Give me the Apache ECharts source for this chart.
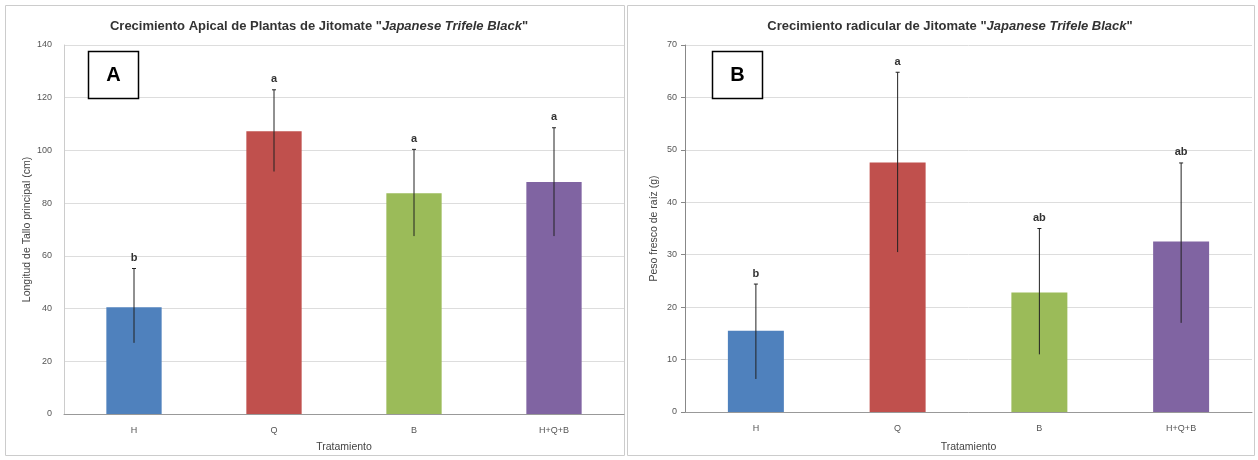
<!DOCTYPE html>
<html><head><meta charset="utf-8">
<script src="https://cdn.jsdelivr.net/npm/echarts@6/dist/echarts.min.js"></script>
<style>html,body{margin:0;padding:0;background:#fff}#c{width:1258px;height:460px}</style>
</head><body><div id="c"></div>
<script>
const categories = ['H', 'Q', 'B', 'H+Q+B'];
const colors = ['#4f81bd', '#c0504d', '#9bbb59', '#8064a2'];
// Panel A: Longitud de tallo principal (cm)
const valuesA = [40.5, 107.3, 83.8, 88];
const errLowA = [27, 92, 67.5, 67.5];
const errHighA = [55.2, 123, 100.4, 108.6];
const lettersA = ['b', 'a', 'a', 'a'];
// Panel B: Peso fresco de raíz (g)
const valuesB = [15.5, 47.6, 22.8, 32.5];
const errLowB = [6.3, 30.5, 11, 17];
const errHighB = [24.4, 64.8, 35, 47.5];
const lettersB = ['b', 'a', 'ab', 'ab'];

const chart = echarts.init(document.getElementById('c'));
const font = 'Liberation Sans, Arial, sans-serif';

function errSeries(idx, lows, highs, letters) {
  return {
    type: 'custom', xAxisIndex: idx, yAxisIndex: idx, z: 10,
    data: categories.map((c, i) => [i, lows[i], highs[i]]),
    renderItem: function (params, api) {
      const lo = api.coord([api.value(0), api.value(1)]);
      const hi = api.coord([api.value(0), api.value(2)]);
      const i = params.dataIndex;
      return {
        type: 'group', children: [
          { type: 'line', shape: { x1: lo[0], y1: lo[1], x2: hi[0], y2: hi[1] }, style: { stroke: '#222', lineWidth: 1 } },
          { type: 'line', shape: { x1: hi[0] - 2, y1: hi[1], x2: hi[0] + 2, y2: hi[1] }, style: { stroke: '#222', lineWidth: 1 } },
          { type: 'text', x: hi[0], y: hi[1] - 5, style: { text: letters[i], fill: '#333', font: 'bold 11px ' + font, align: 'center', verticalAlign: 'bottom' } }
        ]
      };
    }
  };
}

function barSeries(idx, vals) {
  return {
    type: 'bar', xAxisIndex: idx, yAxisIndex: idx, barWidth: '39.5%',
    data: vals.map((v, i) => ({ value: v, itemStyle: { color: colors[i] } }))
  };
}

const axisLabelStyle = { color: '#555', fontSize: 9, fontFamily: font };
const titleRich = {
  n: { fontSize: 13, fontWeight: 'bold', color: '#333', fontFamily: font },
  i: { fontSize: 13, fontWeight: 'bold', fontStyle: 'italic', color: '#333', fontFamily: font }
};

chart.setOption({
  animation: false,
  title: [
    { text: '{n|Crecimiento Apical de Plantas de Jitomate "}{i|Japanese Trifele Black}{n|"}', left: 314, top: 15, textAlign: 'center',
      textStyle: { rich: titleRich } },
    { text: '{n|Crecimiento radicular de Jitomate "}{i|Japanese Trifele Black}{n|"}', left: 945, top: 15, textAlign: 'center',
      textStyle: { rich: titleRich } }
  ],
  grid: [
    { left: 64, top: 45, width: 560, height: 369 },
    { left: 685, top: 45, width: 567, height: 367 }
  ],
  xAxis: [
    { type: 'category', gridIndex: 0, data: categories, name: 'Tratamiento', nameLocation: 'middle', nameGap: 28,
      nameTextStyle: { fontSize: 10.5, color: '#444', fontFamily: font },
      axisLine: { lineStyle: { color: '#999' } }, axisTick: { show: false }, axisLabel: { ...axisLabelStyle, margin: 12 } },
    { type: 'category', gridIndex: 1, data: categories, name: 'Tratamiento', nameLocation: 'middle', nameGap: 30,
      nameTextStyle: { fontSize: 10.5, color: '#444', fontFamily: font },
      axisLine: { lineStyle: { color: '#999' } }, axisTick: { show: false }, axisLabel: { ...axisLabelStyle, margin: 12 } }
  ],
  yAxis: [
    { type: 'value', gridIndex: 0, min: 0, max: 140, interval: 20, name: 'Longitud de Tallo principal (cm)',
      nameLocation: 'middle', nameGap: 29, nameTextStyle: { fontSize: 10.5, color: '#444', fontFamily: font },
      axisLine: { show: true, lineStyle: { color: '#ccc' } }, axisTick: { show: false },
      splitLine: { lineStyle: { color: '#ddd' } }, axisLabel: { ...axisLabelStyle, margin: 12 } },
    { type: 'value', gridIndex: 1, min: 0, max: 70, interval: 10, name: 'Peso fresco de raíz (g)',
      nameLocation: 'middle', nameGap: 25, nameTextStyle: { fontSize: 10.5, color: '#444', fontFamily: font },
      axisLine: { show: true, lineStyle: { color: '#888' } }, axisTick: { show: true, length: 4, lineStyle: { color: '#888' } },
      splitLine: { lineStyle: { color: '#ddd' } }, axisLabel: { ...axisLabelStyle, margin: 8 } }
  ],
  series: [
    barSeries(0, valuesA), errSeries(0, errLowA, errHighA, lettersA),
    barSeries(1, valuesB), errSeries(1, errLowB, errHighB, lettersB)
  ],
  graphic: [
    { type: 'rect', shape: { x: 5.5, y: 5.5, width: 619, height: 450 }, style: { fill: 'none', stroke: '#ccc', lineWidth: 1 }, z: -1 },
    { type: 'rect', shape: { x: 627.5, y: 5.5, width: 627, height: 450 }, style: { fill: 'none', stroke: '#ccc', lineWidth: 1 }, z: -1 },
    { type: 'rect', shape: { x: 88.5, y: 51.5, width: 50, height: 47 }, style: { fill: '#fff', stroke: '#000', lineWidth: 1.5 }, z: 20 },
    { type: 'text', x: 113.5, y: 75, style: { text: 'A', font: 'bold 20px ' + font, fill: '#000', align: 'center', verticalAlign: 'middle' }, z: 21 },
    { type: 'rect', shape: { x: 712.5, y: 51.5, width: 50, height: 47 }, style: { fill: '#fff', stroke: '#000', lineWidth: 1.5 }, z: 20 },
    { type: 'text', x: 737.5, y: 75, style: { text: 'B', font: 'bold 20px ' + font, fill: '#000', align: 'center', verticalAlign: 'middle' }, z: 21 }
  ]
});
</script></body></html>
